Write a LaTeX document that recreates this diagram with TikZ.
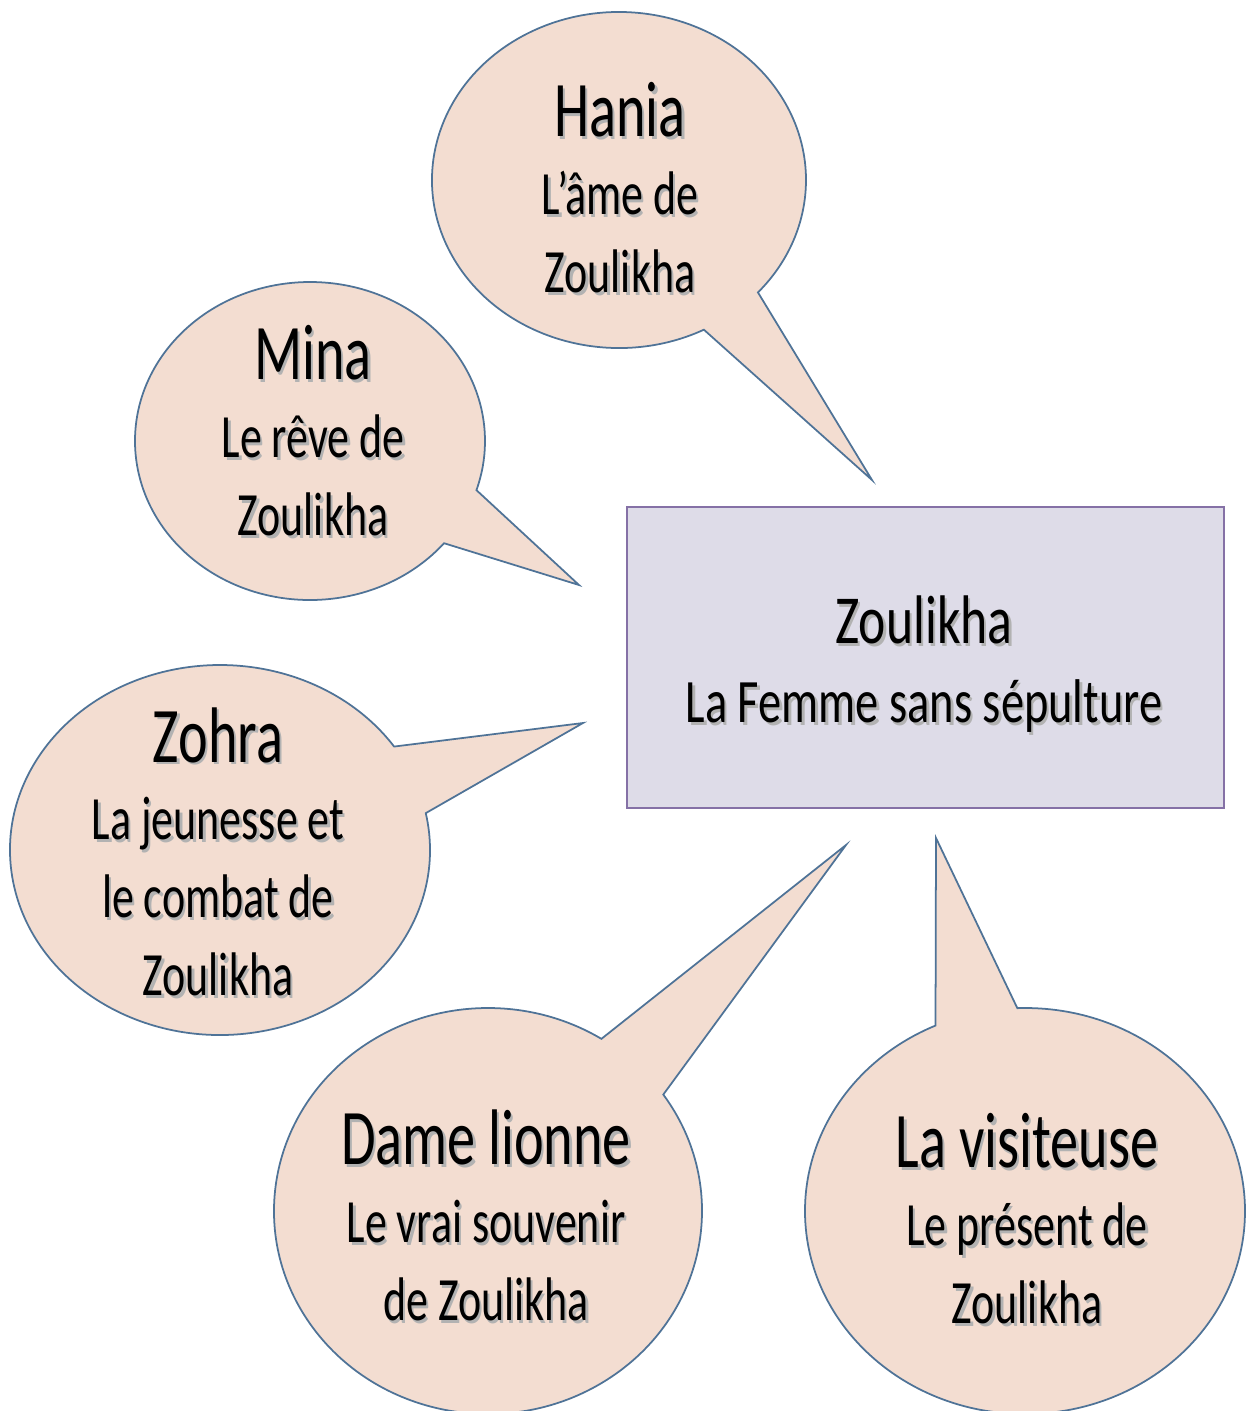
\documentclass[tikz,border=0pt]{standalone}
\usepackage{fontspec}
\setmainfont{Carlito}
\usepackage{graphicx}
\definecolor{bubblefill}{HTML}{F3DDD1}
\definecolor{bubbleline}{HTML}{4F7397}
\definecolor{boxfill}{HTML}{DEDCE8}
\definecolor{boxline}{HTML}{8571A6}
\newcommand{\shd}[1]{\rlap{\kern0.7pt\raisebox{-0.6pt}{\textcolor{black!30}{#1}}}#1}
\newcommand{\who}[1]{{\fontsize{16}{15.8}\selectfont\shd{#1}}}
\newcommand{\tall}[2][1.4]{\scalebox{1}[#1]{\begin{tabular}{@{}c@{}}#2\end{tabular}}}
\begin{document}
\begin{tikzpicture}[x=0.01cm,y=-0.01cm,
    bubble/.style={fill=bubblefill,draw=bubbleline,line width=0.5pt},
    bubtext/.style={font=\fontsize{12.5}{15.8}\selectfont,inner sep=0pt}]
      \useasboundingbox (0,0) rectangle (1250,1411);
      \coordinate (haniatip) at (872,480);
      \coordinate (minatip) at (579,585);
      \coordinate (zohratip) at (583,723);
      \coordinate (dametip) at (846,845);
      \coordinate (visittip) at (936,838);
      \draw[bubble] (619,180) ++(63:187 and 168)
        arc[start angle=63,end angle=402,x radius=187,y radius=168] -- (haniatip) -- cycle;
      \draw[bubble] (310,441) ++(40:175 and 159)
        arc[start angle=40,end angle=378,x radius=175,y radius=159] -- (minatip) -- cycle;
      \draw[bubble] (220,850) ++(-11.5:210 and 185)
        arc[start angle=-11.5,end angle=326,x radius=210,y radius=185] -- (zohratip) -- cycle;
      \draw[bubble] (488,1211) ++(-35:214 and 203)
        arc[start angle=-35,end angle=302,x radius=214,y radius=203] -- (dametip) -- cycle;
      \draw[bubble] (1025,1211) ++(268:220 and 203)
        arc[start angle=268,end angle=606,x radius=220,y radius=203] -- (visittip) -- cycle;
      \draw[fill=boxfill,draw=boxline,line width=0.8pt] (627,507) rectangle (1224,808);
      \node[bubtext] (hania) at (620,199)
        {\tall{\who{Hania}\\ \shd{L'âme de}\\ \shd{Zoulikha}}};
      \node[bubtext] (mina) at (313,442)
        {\tall{\who{Mina}\\ \shd{Le rêve de}\\ \shd{Zoulikha}}};
      \node[bubtext] (zohra) at (218,863)
        {\tall{\who{Zohra}\\ \shd{La jeunesse et}\\ \shd{le combat de}\\ \shd{Zoulikha}}};
      \node[bubtext] (dame) at (486,1227)
        {\tall{\who{Dame lionne}\\ \shd{Le vrai souvenir}\\ \shd{de Zoulikha}}};
      \node[bubtext] (visiteuse) at (1027,1230)
        {\tall{\who{La visiteuse}\\ \shd{Le présent de}\\ \shd{Zoulikha}}};
      \node[inner sep=0pt,font=\fontsize{13.2}{16.9}\selectfont] (zoulikha) at (924,667)
        {\tall[1.33]{{\fontsize{14.7}{16.9}\selectfont\shd{Zoulikha}}\\ \shd{La Femme sans sépulture}}};
    \end{tikzpicture}
\end{document}
